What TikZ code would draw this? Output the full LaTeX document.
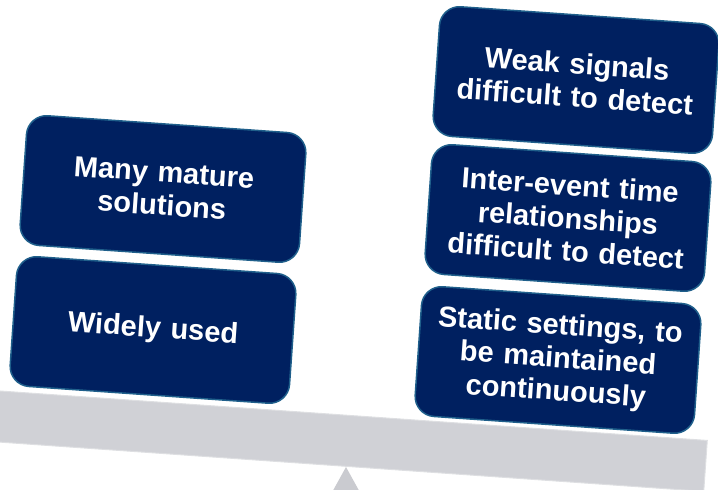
\documentclass[tikz,border=0pt]{standalone}
\usepackage{fontspec}
\setmainfont{Liberation Sans}
\definecolor{navy}{HTML}{002060}
\definecolor{rim}{HTML}{1F5F8B}
\definecolor{plank}{HTML}{D0D1D6}
\tikzset{
  card/.style={draw=rim, line width=1.5pt, fill=navy, rounded corners=20pt,
    minimum width=280pt, minimum height=130pt, text width=264pt, align=center,
    text=white, font=\fontsize{29}{33}\selectfont\bfseries, rotate=-4},
  plankstyle/.style={fill=plank, draw=plank!70!white, line width=1pt}
}
\begin{document}
\begin{tikzpicture}[x=1pt, y=1pt]
  \useasboundingbox (0,0) rectangle (718,490);
  \coordinate (pivot) at (346,23);
  \fill[plank!97!black] (pivot) -- (330,-6) -- (362,-6) -- cycle;
  \draw[plankstyle, rotate around={-4:(0,99)}] (-10,99) rectangle (709,48);
  \node[card] (mature) at (163,301) {Many mature\\solutions};
  \node[card] (widely) at (153,160) {Widely used};
  \node[card] (weak) at (576,410) {Weak signals\\difficult to detect};
  \node[card] (inter) at (568,272) {Inter-event time\\relationships\\difficult to detect};
  \node[card] (static) at (558,130) {Static settings, to\\be maintained\\continuously};
\end{tikzpicture}
\end{document}
